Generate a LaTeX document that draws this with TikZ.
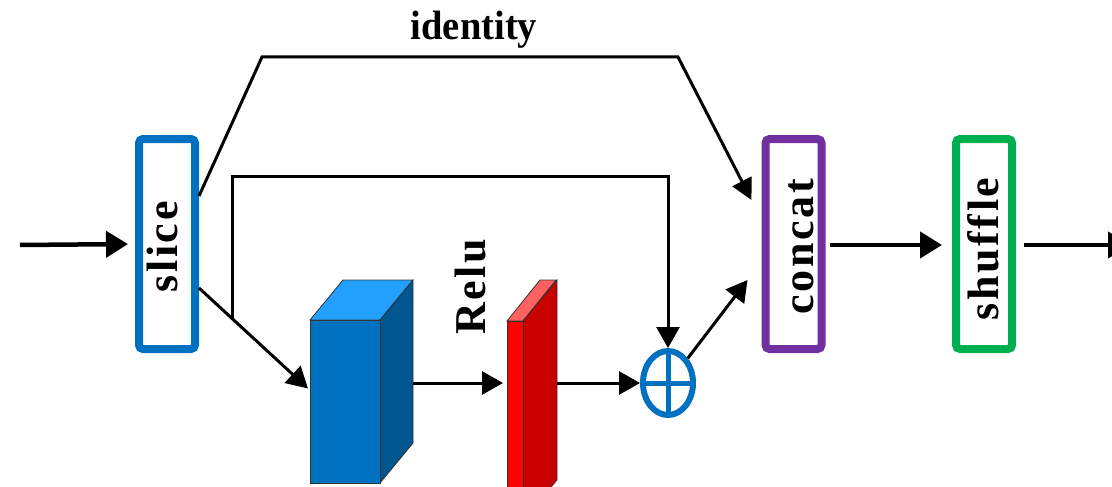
\documentclass[tikz,border=0pt]{standalone}
\usepackage{fontspec}
\setmainfont{Liberation Serif}
\newfontfamily\labelfont[LetterSpace=6,Ligatures=NoCommon]{Liberation Serif}
\usetikzlibrary{arrows.meta,calc,shapes.geometric}

\definecolor{sliceblue}{HTML}{0070C0}
\definecolor{concatpurple}{HTML}{7030A0}
\definecolor{shufflegreen}{HTML}{00B050}
\definecolor{cubefront}{HTML}{0070C0}
\definecolor{cubetop}{HTML}{21A0FF}
\definecolor{cubeside}{HTML}{00568F}
\definecolor{slabfront}{HTML}{FF0000}
\definecolor{slabtop}{HTML}{FF6060}
\definecolor{slabside}{HTML}{C80000}

\tikzset{
  opbox/.style={draw=#1, line width=8pt, rounded corners=4pt, fill=white,
    minimum width=56pt, minimum height=210pt, inner sep=0pt},
  vlabel/.style={rotate=90, anchor=base, inner sep=0pt,
    font=\fontsize{44}{44}\labelfont\bfseries},
  flow/.style={line width=3pt, -{Triangle[length=21pt,width=23pt]}},
  mainflow/.style={line width=4.5pt, -{Triangle[length=22pt,width=26pt]}},
  wire/.style={line width=3pt},
  face/.style={draw=black!80, line width=0.8pt},
}

\begin{document}
\begin{tikzpicture}[x=1pt, y=-1pt]
\useasboundingbox (0,0) rectangle (1112,487);
\clip (0,0) rectangle (1112,487);

% operation boxes
\node[opbox=sliceblue]    (slice)   at (167,244)   {};
\node[opbox=concatpurple] (concat)  at (793.5,244) {};
\node[opbox=shufflegreen] (shuffle) at (984,244)   {};

\node[vlabel] at (177,247)  {slice};
\node[vlabel] at (813,247)  {concat};
\node[vlabel] at (998,249)  {shuffle};

% convolution block (blue cuboid)
\node[rectangle, minimum width=70pt, minimum height=163pt, inner sep=0pt,
      outer sep=0pt] (cube) at (345,401.5) {};
\fill[cubetop, face] (cube.north west) -- ++(33,-40) -- ++(70,0)
  -- (cube.north east) -- cycle;
\fill[cubeside, face] (cube.north east) -- ++(33,-40) -- ++(0,163)
  -- (cube.south east) -- cycle;
\fill[cubefront, face] (cube.south west) rectangle (cube.north east);

% activation block (red slab)
\node[rectangle, minimum width=16pt, minimum height=200pt, inner sep=0pt,
      outer sep=0pt] (slab) at (515,421) {};
\fill[slabtop, face] (slab.north west) -- ++(33,-41) -- ++(16,0)
  -- (slab.north east) -- cycle;
\fill[slabside, face] (slab.north east) -- ++(34,-41) -- ++(0,200)
  -- (slab.south east) -- cycle;
\fill[slabfront, face] (slab.south west) rectangle (slab.north east);

\node[vlabel] at (485,287) {Relu};

% element-wise sum
\node[ellipse, draw=sliceblue, line width=6pt, fill=white,
      minimum width=50pt, minimum height=64pt, inner sep=0pt] (plus) at (668,383) {};
\draw[sliceblue, line width=5pt] ($(plus.center)+(-25,0)$) -- ($(plus.center)+(25,0)$);
\draw[sliceblue, line width=5pt] ($(plus.center)+(0,-32)$) -- ($(plus.center)+(0,32)$);

% identity label
\node[inner sep=0pt, anchor=base, font=\fontsize{41}{41}\selectfont\bfseries]
  (idlabel) at (474,40) {\scalebox{0.94}[1]{identity}};

% helper points
\coordinate (in)     at (20,245);
\coordinate (out)    at (1130,245);
\coordinate (idL)    at (262,57);
\coordinate (idR)    at (678,57);
\coordinate (br)     at (232,318);
\coordinate (loopy)  at (0,176);
\coordinate (cubeout) at (413,383);
\coordinate (slabout) at (557,383);

% connectors
\draw[mainflow, shorten >=7pt] (in) -- (slice.west);
\draw[wire, -{Triangle[length=21pt,width=21pt]}]
  ($(slice.east)+(0,-48)$) -- (idL) -- (idR) -- ($(concat.west)+(-10,-44)$);
\draw[flow] ($(slice.east)+(0,44)$) -- ($(cube.west)+(-2,-13)$);
\draw[flow] (br) -- (br |- loopy) -- (plus |- loopy) -- (plus.north);
\draw[flow, shorten >=4pt] (cubeout) -- (slab.west |- cubeout);
\draw[flow] (slabout) -- (plus.west);
\draw[flow] (plus.north east) -- ($(concat.west)+(-14,36)$);
\draw[mainflow, shorten <=4pt, shorten >=10pt] (concat.east |- in) -- (shuffle.west |- in);
\draw[mainflow, shorten <=8pt] (shuffle.east |- in) -- (out);
\end{tikzpicture}
\end{document}
